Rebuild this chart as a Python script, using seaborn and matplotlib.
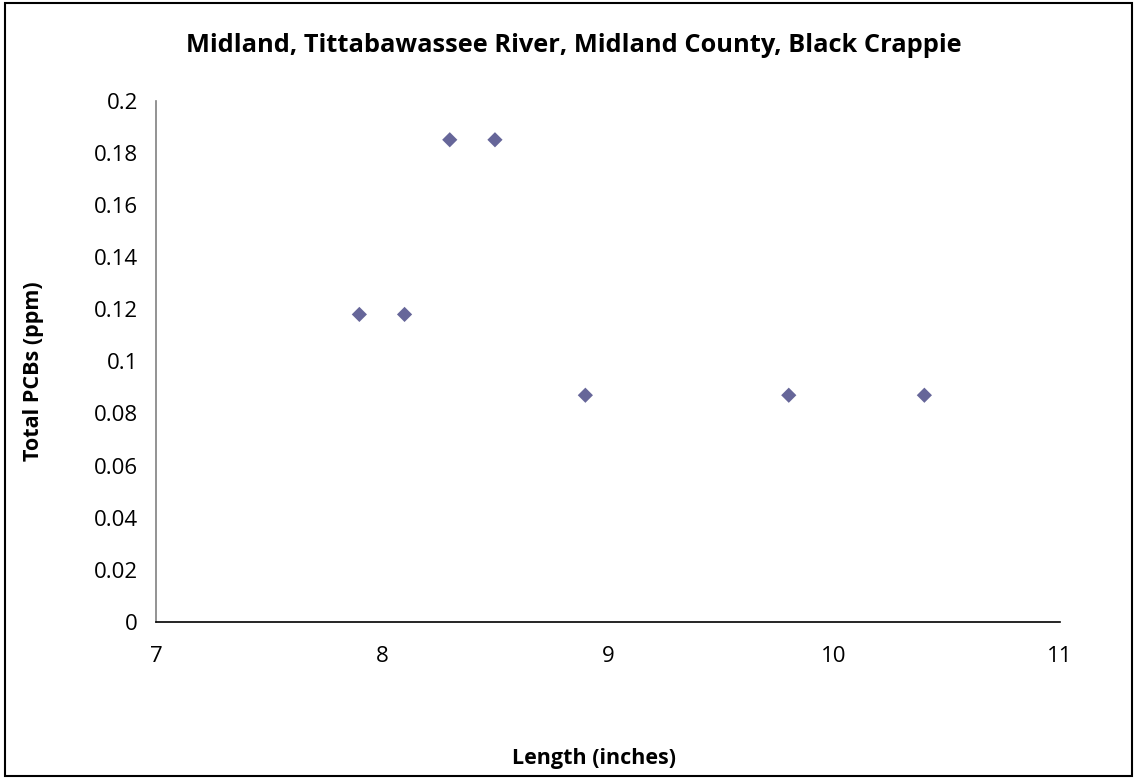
import matplotlib
matplotlib.use('Agg')
import matplotlib.pyplot as plt
from matplotlib.patches import Rectangle
import seaborn as sns
import pandas as pd

# Data
length_in = [7.9, 8.1, 8.3, 8.5, 8.9, 9.8, 10.4]
pcb_ppm = [0.118, 0.118, 0.185, 0.185, 0.087, 0.087, 0.087]
x_ticks = [7, 8, 9, 10, 11]
y_ticks = [0, 0.02, 0.04, 0.06, 0.08, 0.1, 0.12, 0.14, 0.16, 0.18, 0.2]
y_tick_labels = ['0', '0.02', '0.04', '0.06', '0.08', '0.1', '0.12', '0.14', '0.16', '0.18', '0.2']

df = pd.DataFrame({'length': length_in, 'pcb': pcb_ppm})

sns.set_style('white')
plt.rcParams['font.family'] = ['Open Sans', 'DejaVu Sans']
plt.rcParams['text.color'] = 'black'
plt.rcParams['axes.labelcolor'] = 'black'

fig = plt.figure(figsize=(11.35, 7.78), dpi=100)
ax = fig.add_axes([0.1374, 0.2005, 0.7965, 0.6701])

sns.scatterplot(x='length', y='pcb', data=df, marker='D', s=60,
                color='#666699', edgecolor='none', ax=ax)

ax.set_xlim(7, 11)
ax.set_ylim(0, 0.2)
ax.set_xticks(x_ticks)
ax.set_xticklabels([str(t) for t in x_ticks])
ax.set_yticks(y_ticks)
ax.set_yticklabels(y_tick_labels)

for side in ['top', 'right']:
    ax.spines[side].set_visible(False)
ax.spines['left'].set_color('#808080')
ax.spines['left'].set_linewidth(1.2)
ax.spines['bottom'].set_color('black')
ax.spines['bottom'].set_linewidth(1.2)

ax.tick_params(axis='both', direction='out', length=7, width=1.2,
               color='#808080', labelsize=16, labelcolor='black')
ax.tick_params(axis='x', pad=10)
ax.tick_params(axis='y', pad=6)

ax.set_xlabel('Length (inches)', fontsize=15.5, fontweight='bold')
ax.set_ylabel('Total PCBs (ppm)', fontsize=15.5, fontweight='bold')
ax.xaxis.set_label_coords(0.4845, -0.261)
ax.yaxis.set_label_coords(-0.136, 0.4805)
ax.xaxis.label.set_va('center')
ax.yaxis.label.set_va('center')

fig.text(0.506, 0.941, 'Midland, Tittabawassee River, Midland County, Black Crappie',
         ha='center', va='center', fontsize=18.3, fontweight='bold')

fig.patches.append(Rectangle((0.004, 0.002), 0.993, 0.994, transform=fig.transFigure,
                             fill=False, edgecolor='black', linewidth=1.5))

fig.savefig('out.png', dpi=100)
